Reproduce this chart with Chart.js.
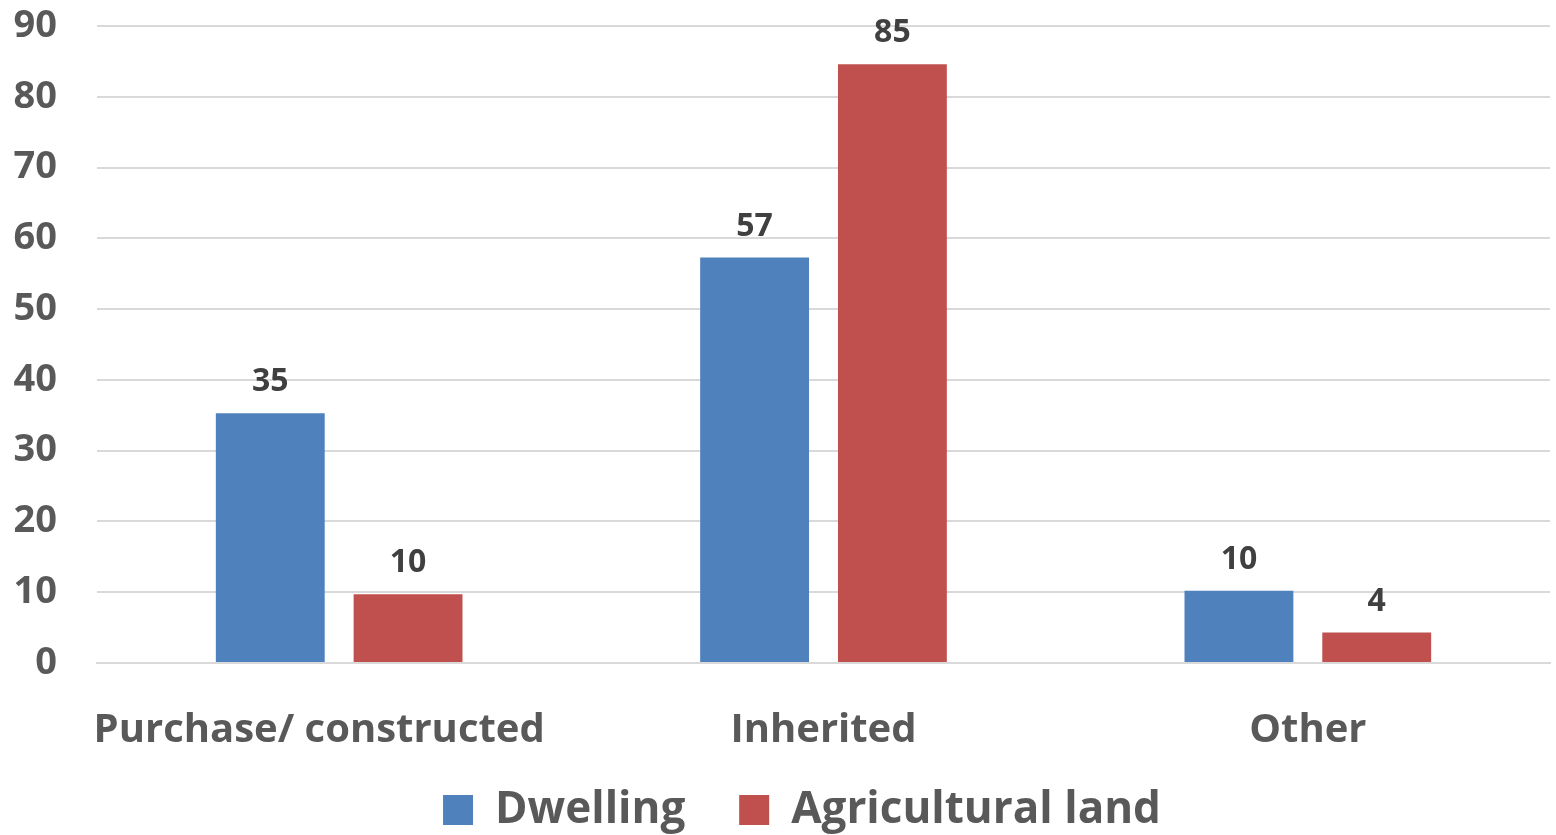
<!DOCTYPE html>
<html>
<head>
<meta charset="utf-8">
<script src="https://cdn.jsdelivr.net/npm/chart.js@4.4.1/dist/chart.umd.min.js"></script>
<style>
  html, body { margin: 0; padding: 0; background: #ffffff; }
  #contenedor { width: 1556px; height: 835px; position: relative; }
</style>
</head>
<body>
<div id="contenedor"><canvas id="grafica"></canvas></div>
<script>
/* Datos del gráfico */
let categorias = ['Purchase/ constructed', 'Inherited', 'Other'];
let vivienda = [35.3, 57.3, 10.2];      // Dwelling
let tierraAgricola = [9.7, 84.6, 4.3];  // Agricultural land
let ticksY = [0, 10, 20, 30, 40, 50, 60, 70, 80, 90];

let colorTexto = '#595959';
let fuente = "'Open Sans', sans-serif";

// Etiquetas de valor encima de cada barra
const etiquetasBarras = {
    id: 'etiquetasBarras',
    afterDatasetsDraw(chart) {
        let ctx = chart.ctx;
        ctx.save();
        ctx.font = 'bold 32px ' + fuente;
        ctx.fillStyle = '#404040';
        ctx.textAlign = 'center';
        ctx.textBaseline = 'middle';
        chart.data.datasets.forEach((ds, i) => {
            chart.getDatasetMeta(i).data.forEach((barra, j) => {
                ctx.fillText(Math.round(ds.data[j]), barra.x, barra.y - 31);
            });
        });
        ctx.restore();
    }
};

// Desplaza la leyenda un poco a la derecha, como en el original
const moverLeyenda = {
    id: 'moverLeyenda',
    afterLayout(chart) {
        chart.legend.left += 27;
        chart.legend.right += 27;
    }
};

let ctx = document.getElementById('grafica').getContext('2d');
let grafica = new Chart(ctx, {
    type: 'bar',
    data: {
        labels: categorias,
        datasets: [{
            label: 'Dwelling',
            data: vivienda,
            backgroundColor: '#4F81BD',
            categoryPercentage: 0.569,
            barPercentage: 0.79
        }, {
            label: 'Agricultural land',
            data: tierraAgricola,
            backgroundColor: '#C0504D',
            categoryPercentage: 0.569,
            barPercentage: 0.79
        }]
    },
    options: {
        responsive: true,
        maintainAspectRatio: false,
        animation: false,
        layout: {
            padding: { top: 26, right: 6, left: 0, bottom: -7 }
        },
        plugins: {
            legend: {
                position: 'bottom',
                labels: {
                    boxWidth: 30,
                    boxHeight: 30,
                    padding: 31,
                    color: colorTexto,
                    font: { family: fuente, size: 44, weight: 'bold' },
                    generateLabels(chart) {
                        let items = Chart.defaults.plugins.legend.labels.generateLabels(chart);
                        // un poco más de separación tras el primer elemento
                        items[0].text += '  ';
                        return items;
                    }
                }
            },
            tooltip: { enabled: false }
        },
        scales: {
            x: {
                grid: { display: false, drawTicks: false },
                border: { display: true, color: '#d9d9d9', width: 2 },
                ticks: {
                    color: colorTexto,
                    padding: 44,
                    maxRotation: 0,
                    minRotation: 0,
                    autoSkip: false,
                    font: { family: fuente, size: 40, weight: 'bold' },
                    callback(valor, indice) {
                        let texto = this.getLabelForValue(valor);
                        return indice === 0 ? texto + '\u2002\u2002' : texto;
                    }
                },
                afterFit(scale) {
                    scale.height = 94;
                    scale.paddingLeft = 0;
                    scale.paddingRight = 0;
                }
            },
            y: {
                min: 0,
                max: 90,
                afterBuildTicks(scale) {
                    scale.ticks = ticksY.map(v => ({ value: v }));
                },
                grid: { color: '#d9d9d9', lineWidth: 2, drawTicks: false },
                border: { display: false },
                ticks: {
                    color: colorTexto,
                    padding: 40,
                    font: { family: fuente, size: 38, weight: 'bold' }
                },
                afterFit(scale) {
                    scale.width = 97;
                    scale.paddingTop = 0;
                    scale.paddingBottom = 0;
                }
            }
        }
    },
    plugins: [etiquetasBarras, moverLeyenda]
});
</script>
</body>
</html>
